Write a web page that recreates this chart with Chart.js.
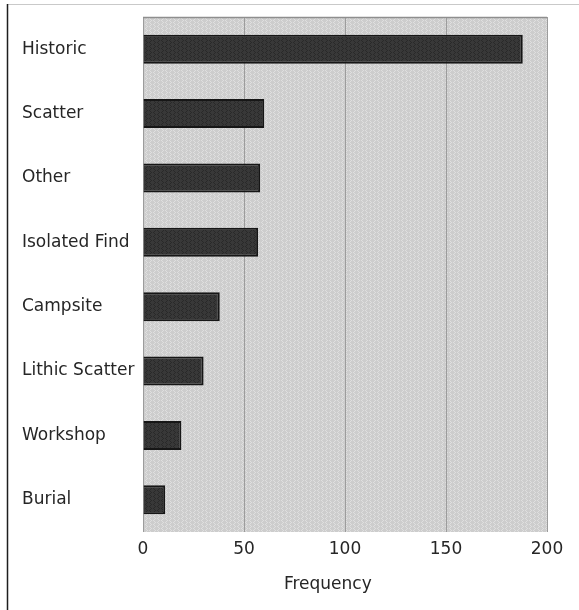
<!DOCTYPE html>
<html>
<head>
<meta charset="utf-8">
<script src="https://cdn.jsdelivr.net/npm/chart.js@4/dist/chart.umd.min.js"></script>
<style>
  html, body { margin: 0; padding: 0; background: #fff; }
  #wrap { position: relative; width: 579px; height: 610px; }
</style>
</head>
<body>
<div id="wrap"><canvas id="chart" width="579" height="610"></canvas></div>
<script>
// Site types and how often each was recorded
const categories = ['Historic', 'Scatter', 'Other', 'Isolated Find', 'Campsite', 'Lithic Scatter', 'Workshop', 'Burial'];
const frequency = [188, 60, 58, 57, 38, 30, 19, 11];
const tickValues = [0, 50, 100, 150, 200];
const axisTitle = 'Frequency';

const FONT = '"DejaVu Sans", sans-serif';
const TEXT = '#262626';

// Small tiled textures: a light wavy weave on the plot, a dark weave on the bars
function makePattern(base, accent, w, h, pts) {
  const c = document.createElement('canvas');
  c.width = w; c.height = h;
  const g = c.getContext('2d');
  g.fillStyle = base;
  g.fillRect(0, 0, w, h);
  g.fillStyle = accent;
  pts.forEach(([x, y]) => g.fillRect(x, y, 1, 1));
  return g.createPattern(c, 'repeat');
}
const zig = [];
for (let y = 0; y < 8; y++) {
  const k = y % 4;
  const dx = k < 2 ? k : 4 - k;
  zig.push([1 + dx, y]);
  zig.push([5 + (2 - dx) % 3, y]);
}
const ctx0 = document.getElementById('chart').getContext('2d');
const plotPattern = makePattern('#cdcdcd', '#dfdfdf', 8, 8, zig);
const barPattern = makePattern('#383838', '#292929', 8, 8, zig);

const frame = {
  id: 'frame',
  beforeDraw(chart) {
    const { ctx, chartArea: a } = chart;
    ctx.save();
    // page frame
    ctx.strokeStyle = '#c9c9c9';
    ctx.lineWidth = 1;
    ctx.beginPath();
    ctx.moveTo(7, 4.5);
    ctx.lineTo(579, 4.5);
    ctx.stroke();
    ctx.strokeStyle = '#1e1e1e';
    ctx.lineWidth = 1.5;
    ctx.beginPath();
    ctx.moveTo(7.5, 4);
    ctx.lineTo(7.5, 610);
    ctx.stroke();
    // plot background
    ctx.fillStyle = plotPattern;
    ctx.fillRect(a.left, a.top, a.right - a.left, a.bottom - a.top);
    ctx.restore();
  },
  afterDraw(chart) {
    const { ctx, chartArea: a, scales } = chart;
    ctx.save();
    ctx.strokeStyle = '#8e8e8e';
    ctx.lineWidth = 1.5;
    ctx.beginPath();
    ctx.moveTo(a.left, a.top + 0.5);
    ctx.lineTo(a.right, a.top + 0.5);
    ctx.stroke();
    // axis title, set a little left of the plot centre
    ctx.fillStyle = TEXT;
    ctx.font = '17px ' + FONT;
    ctx.textAlign = 'center';
    ctx.textBaseline = 'middle';
    ctx.fillText(axisTitle, scales.x.getPixelForValue(91.5), 585);
    ctx.restore();
  }
};

new Chart(ctx0, {
  type: 'bar',
  data: {
    labels: categories,
    datasets: [{
      data: frequency,
      backgroundColor: barPattern,
      borderColor: '#161616',
      borderWidth: 2,
      borderSkipped: 'start',
      barPercentage: 0.45,
      categoryPercentage: 1
    }]
  },
  options: {
    indexAxis: 'y',
    responsive: false,
    animation: false,
    devicePixelRatio: 1,
    layout: { padding: { left: 22, top: 17, right: 32, bottom: 40 } },
    plugins: {
      legend: { display: false },
      tooltip: { enabled: false }
    },
    scales: {
      x: {
        min: 0,
        max: 200,
        afterBuildTicks(scale) {
          scale.ticks = tickValues.map(v => ({ value: v }));
        },
        afterFit(scale) { scale.height = 38; },
        grid: { color: '#9c9c9c', lineWidth: 1, drawTicks: false },
        border: { display: false },
        ticks: {
          padding: 7,
          color: TEXT,
          font: { family: FONT, size: 17 },
          maxRotation: 0
        }
      },
      y: {
        afterFit(scale) { scale.width = 121; },
        grid: { display: false },
        border: { display: false },
        ticks: {
          crossAlign: 'far',
          color: TEXT,
          font: { family: FONT, size: 17 }
        }
      }
    }
  },
  plugins: [frame]
});
</script>
</body>
</html>
